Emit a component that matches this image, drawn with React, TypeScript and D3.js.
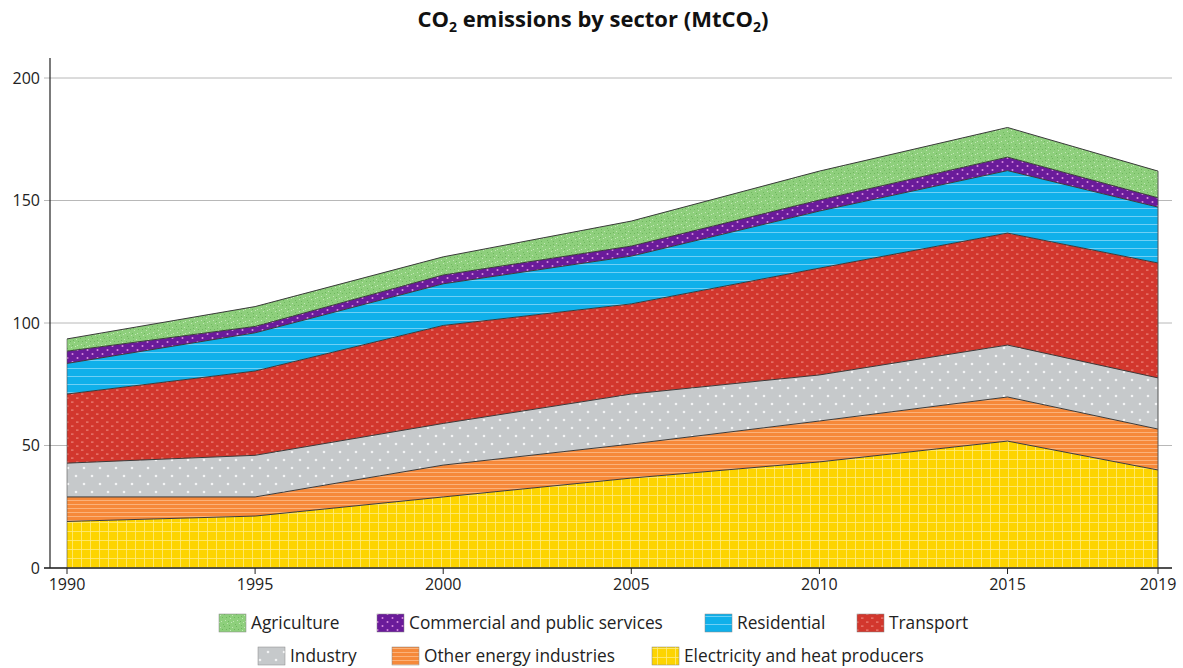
import React from "react";
import * as d3 from "d3";

const years = [1990, 1995, 2000, 2005, 2010, 2015, 2019];
const electricity = [19.0, 21.2, 29.0, 36.7, 43.3, 51.8, 40.0];
const otherEnergy = [10.0, 7.8, 13.0, 13.9, 16.7, 18.0, 16.7];
const industry = [13.8, 17.0, 17.0, 20.4, 18.8, 21.2, 20.9];
const transport = [28.2, 34.4, 40.0, 36.8, 43.6, 45.7, 46.9];
const residential = [12.5, 15.6, 17.0, 19.5, 23.3, 25.5, 22.8];
const commercial = [5.0, 2.6, 3.6, 4.1, 4.5, 5.5, 3.8];
const agriculture = [5.0, 8.1, 7.4, 10.2, 11.8, 12.1, 10.9];

const yTicks = [0, 50, 100, 150, 200];

const keys = ["elec", "other", "industry", "transport", "residential", "commercial", "agriculture"];
const seriesValues: Record<string, number[]> = {
  elec: electricity,
  other: otherEnergy,
  industry: industry,
  transport: transport,
  residential: residential,
  commercial: commercial,
  agriculture: agriculture,
};
const legendRow1 = [
  { key: "agriculture", label: "Agriculture" },
  { key: "commercial", label: "Commercial and public services" },
  { key: "residential", label: "Residential" },
  { key: "transport", label: "Transport" },
];
const legendRow2 = [
  { key: "industry", label: "Industry" },
  { key: "other", label: "Other energy industries" },
  { key: "elec", label: "Electricity and heat producers" },
];

const speckle = [
  [1, 1], [4, 3], [7, 0], [2, 6], [6, 5], [9, 8], [0, 9], [5, 9], [8, 2], [3, 10], [10, 5], [11, 11], [1, 4],
];

function Patterns() {
  return (
    <defs>
      <pattern id="p-elec" width="9" height="9" patternUnits="userSpaceOnUse">
        <rect width="9" height="9" fill="#fdd400" />
        <path d="M0 0.5H9M0.5 0V9" stroke="#fff3a0" strokeWidth="0.8" opacity="0.8" />
      </pattern>
      <pattern id="p-other" width="6" height="4" patternUnits="userSpaceOnUse">
        <rect width="6" height="4" fill="#f6893a" />
        <path d="M0 0.5H6" stroke="#fbb27a" strokeWidth="1" />
      </pattern>
      <pattern id="p-industry" width="16" height="16" patternUnits="userSpaceOnUse">
        <rect width="16" height="16" fill="#c6c9cb" />
        <circle cx="4" cy="4" r="1.3" fill="#f2f3f4" />
        <circle cx="12" cy="12" r="1.3" fill="#f2f3f4" />
      </pattern>
      <pattern id="p-transport" width="10" height="8" patternUnits="userSpaceOnUse">
        <rect width="10" height="8" fill="#d2372d" />
        <rect x="1" y="1.5" width="2.5" height="1.2" fill="#ec857b" />
        <rect x="6" y="5.5" width="2.5" height="1.2" fill="#ec857b" />
      </pattern>
      <pattern id="p-residential" width="8" height="8" patternUnits="userSpaceOnUse">
        <rect width="8" height="8" fill="#10b0ea" />
        <path d="M0 0.5H8" stroke="#6fd0f5" strokeWidth="1" />
      </pattern>
      <pattern id="p-commercial" width="10" height="8" patternUnits="userSpaceOnUse">
        <rect width="10" height="8" fill="#6a1b9a" />
        <circle cx="2.5" cy="2" r="1" fill="#d98ae0" />
        <circle cx="7.5" cy="6" r="1" fill="#d98ae0" />
      </pattern>
      <pattern id="p-agriculture" width="12" height="12" patternUnits="userSpaceOnUse">
        <rect width="12" height="12" fill="#8ecf7c" />
        {speckle.map(([x, y], i) => (
          <rect key={i} x={x} y={y} width="1" height="1" fill={i % 2 ? "#c2e8b6" : "#6fb65f"} />
        ))}
      </pattern>
    </defs>
  );
}

export default function App() {
  const W = 1183;
  const H = 668;
  const x = d3.scaleLinear().domain([1990, 2019]).range([67, 1158]);
  const y = d3.scaleLinear().domain([0, 200]).range([568, 78]);

  const table = years.map((yr, i) => {
    const row: any = { year: yr };
    keys.forEach((k) => (row[k] = seriesValues[k][i]));
    return row;
  });
  const stacked = d3.stack<any>().keys(keys)(table);
  const area = d3
    .area<any>()
    .x((d) => x(d.data.year))
    .y0((d) => y(d[0]))
    .y1((d) => y(d[1]));
  const topLine = d3
    .line<any>()
    .x((d) => x(d.data.year))
    .y((d) => y(d[1]));

  const font = "'Open Sans', 'DejaVu Sans', sans-serif";

  const legendItem = (it: { key: string; label: string }, xs: number, yc: number) => (
    <g key={it.key}>
      <rect x={xs} y={yc - 9} width={27} height={18} fill={`url(#p-${it.key})`} stroke="#888" strokeWidth={0.5} />
      <text x={xs + 32} y={yc} dy="0.35em" fontSize={17.3} fill="#222" fontFamily={font}>
        {it.label}
      </text>
    </g>
  );
  const row1X = [219, 377, 705, 857];
  const row2X = [258, 392, 652];
  const top = stacked[stacked.length - 1];

  return (
    <svg width={W} height={H} style={{ position: "absolute", left: 0, top: 0 }}>
      <Patterns />
      <rect width={W} height={H} fill="#fff" />
      <text x={593} y={27} textAnchor="middle" fontSize={22} fontWeight="bold" fill="#111" fontFamily={font}>
        CO
        <tspan fontSize={14} dy={5}>2</tspan>
        <tspan dy={-5}> emissions by sector (MtCO</tspan>
        <tspan fontSize={14} dy={5}>2</tspan>
        <tspan dy={-5}>)</tspan>
      </text>
      {yTicks.map((t) => (
        <g key={t}>
          <line x1={44} x2={1172} y1={y(t)} y2={y(t)} stroke="#b8b8b8" strokeWidth={1} />
          <text x={40} y={y(t)} dy="0.35em" textAnchor="end" fontSize={16} fill="#222" fontFamily={font}>
            {t}
          </text>
        </g>
      ))}
      {stacked.map((s) => (
        <path key={s.key} d={area(s as any) || ""} fill={`url(#p-${s.key})`} />
      ))}
      {stacked.map((s) => (
        <path key={s.key + "l"} d={topLine(s as any) || ""} fill="none" stroke="#3a3a3a" strokeWidth={1} />
      ))}
      <line x1={x(2019)} x2={x(2019)} y1={y(0)} y2={y(top[6][1])} stroke="#555" strokeWidth={1} />
      <line x1={x(1990)} x2={x(1990)} y1={y(0)} y2={y(top[0][1])} stroke="#555" strokeWidth={0.6} />
      <line x1={50} x2={50} y1={58} y2={568} stroke="#222" strokeWidth={1.2} />
      <line x1={44} x2={1172} y1={568} y2={568} stroke="#222" strokeWidth={1.5} />
      {years.map((yr) => (
        <g key={yr}>
          <line x1={x(yr)} x2={x(yr)} y1={568} y2={574} stroke="#222" strokeWidth={1} />
          <text x={x(yr)} y={584} dy="0.35em" textAnchor="middle" fontSize={16} fill="#222" fontFamily={font}>
            {yr}
          </text>
        </g>
      ))}
      {legendRow1.map((it, i) => legendItem(it, row1X[i], 623))}
      {legendRow2.map((it, i) => legendItem(it, row2X[i], 656))}
    </svg>
  );
}
